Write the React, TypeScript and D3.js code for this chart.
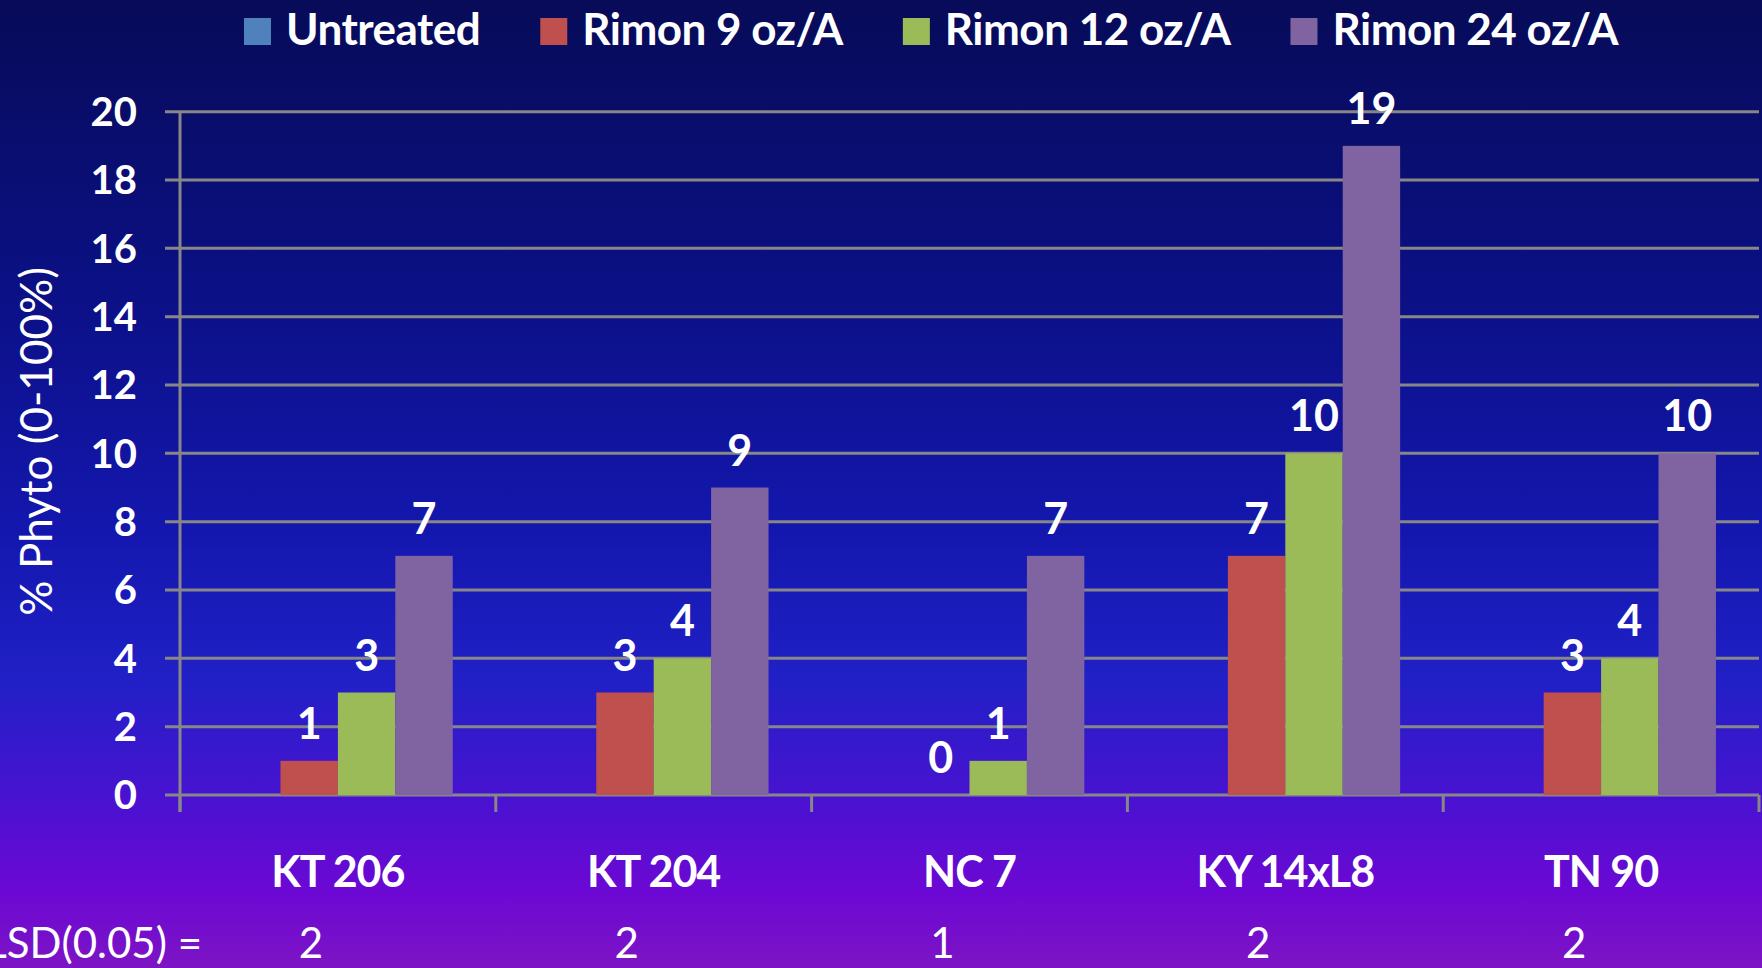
import React, { useEffect, useRef } from "react";
import * as d3 from "d3";

const categories = ["KT 206", "KT 204", "NC 7", "KY 14xL8", "TN 90"];
const seriesNames = ["Untreated", "Rimon 9 oz/A", "Rimon 12 oz/A", "Rimon 24 oz/A"];
const untreated = [0, 0, 0, 0, 0];
const rimon9 = [1, 3, 0, 7, 3];
const rimon12 = [3, 4, 1, 10, 4];
const rimon24 = [7, 9, 7, 19, 10];
const lsd = [2, 2, 1, 2, 2];
const yTicks = [0, 2, 4, 6, 8, 10, 12, 14, 16, 18, 20];
const colors = ["#4F81BD", "#C0504D", "#9BBB59", "#8064A2"];

const App = () => {
  const ref = useRef<SVGSVGElement>(null);

  useEffect(() => {
    document.body.style.margin = "0";
    const width = 1762;
    const height = 968;
    const margin = { top: 111.7, right: 3, bottom: 173, left: 180 };
    const font = "Lato, 'Open Sans', sans-serif";
    const gridColor = "#878787";

    const values = [untreated, rimon9, rimon12, rimon24];
    const rows = categories.map((c, i) => ({
      cat: c,
      vals: seriesNames.map((s, j) => ({ name: s, idx: j, value: values[j][i] })),
    }));

    const svg = d3.select(ref.current);
    svg.selectAll("*").remove();
    svg.attr("width", width).attr("height", height).attr("viewBox", [0, 0, width, height]);

    // background gradient
    const grad = svg
      .append("defs")
      .append("linearGradient")
      .attr("id", "bg")
      .attr("x1", 0)
      .attr("y1", 0)
      .attr("x2", 0)
      .attr("y2", 1);
    [
      [0, "#070b58"],
      [0.3, "#0b1085"],
      [0.55, "#1417ae"],
      [0.7, "#2020c6"],
      [0.82, "#4713d0"],
      [0.92, "#6c08d4"],
      [1, "#7d14c4"],
    ].forEach(([o, c]) => grad.append("stop").attr("offset", o).attr("stop-color", c));
    svg.append("rect").attr("width", width).attr("height", height).attr("fill", "url(#bg)");

    const x = d3
      .scaleBand()
      .domain(categories)
      .range([margin.left, width - margin.right]);
    const xs = d3
      .scaleBand()
      .domain(seriesNames)
      .range([0, x.bandwidth()])
      .paddingInner(0)
      .paddingOuter(0.75);
    const y = d3
      .scaleLinear()
      .domain([0, 20])
      .range([height - margin.bottom, margin.top]);

    // gridlines
    svg
      .append("g")
      .selectAll("line")
      .data(yTicks)
      .join("line")
      .attr("x1", margin.left - 15)
      .attr("x2", width - margin.right)
      .attr("y1", (d) => y(d))
      .attr("y2", (d) => y(d))
      .attr("stroke", gridColor)
      .attr("stroke-width", 3);

    // y tick labels
    svg
      .append("g")
      .selectAll("text")
      .data(yTicks)
      .join("text")
      .attr("x", margin.left - 43)
      .attr("y", (d) => y(d))
      .attr("dy", "0.36em")
      .attr("text-anchor", "end")
      .attr("fill", "#fff")
      .attr("font-family", font)
      .attr("font-weight", 700)
      .attr("font-size", 40)
      .text((d) => d);

    // bars
    const group = svg
      .append("g")
      .selectAll("g")
      .data(rows)
      .join("g")
      .attr("transform", (d) => `translate(${x(d.cat)},0)`);

    group
      .selectAll("rect")
      .data((d) => d.vals)
      .join("rect")
      .attr("x", (d) => xs(d.name))
      .attr("y", (d) => y(d.value))
      .attr("width", xs.bandwidth())
      .attr("height", (d) => y(0) - y(d.value))
      .attr("fill", (d) => colors[d.idx]);

    group
      .selectAll("text")
      .data((d) => d.vals.filter((v) => v.idx > 0))
      .join("text")
      .attr("x", (d) => xs(d.name) + xs.bandwidth() / 2)
      .attr("y", (d) => y(d.value) - 22)
      .attr("text-anchor", "middle")
      .attr("fill", "#fff")
      .attr("font-family", font)
      .attr("font-weight", 700)
      .attr("font-size", 43)
      .text((d) => d.value);

    // axes lines
    svg
      .append("line")
      .attr("x1", margin.left)
      .attr("x2", margin.left)
      .attr("y1", y(20))
      .attr("y2", y(0) + 17)
      .attr("stroke", gridColor)
      .attr("stroke-width", 3);
    const bounds = categories.map((c) => x(c)).concat([width - margin.right]);
    svg
      .append("g")
      .selectAll("line")
      .data(bounds)
      .join("line")
      .attr("x1", (d) => d)
      .attr("x2", (d) => d)
      .attr("y1", y(0))
      .attr("y2", y(0) + 17)
      .attr("stroke", gridColor)
      .attr("stroke-width", 3);

    // category labels
    svg
      .append("g")
      .selectAll("text")
      .data(categories)
      .join("text")
      .attr("x", (d) => x(d) + x.bandwidth() / 2)
      .attr("y", 887)
      .attr("text-anchor", "middle")
      .attr("fill", "#fff")
      .attr("font-family", font)
      .attr("font-weight", 700)
      .attr("font-size", 43)
      .attr("letter-spacing", -1)
      .text((d) => d);

    // LSD row
    svg
      .append("text")
      .attr("x", 202)
      .attr("y", 958)
      .attr("text-anchor", "end")
      .attr("fill", "#fff")
      .attr("font-family", font)
      .attr("font-size", 42)
      .text("LSD(0.05) =");
    svg
      .append("g")
      .selectAll("text")
      .data(lsd)
      .join("text")
      .attr("x", (d, i) => x(categories[i]) + x.bandwidth() / 2 - 27)
      .attr("y", 958)
      .attr("text-anchor", "middle")
      .attr("fill", "#fff")
      .attr("font-family", font)
      .attr("font-size", 42)
      .text((d) => d);

    // y axis title
    svg
      .append("text")
      .attr("transform", `translate(52,${(y(0) + y(20)) / 2 - 12}) rotate(-90)`)
      .attr("text-anchor", "middle")
      .attr("fill", "#fff")
      .attr("font-family", font)
      .attr("font-size", 44)
      .text("% Phyto (0-100%)");

    // legend
    const legend = svg.append("g");
    let lx = 244;
    seriesNames.forEach((s, i) => {
      const item = legend.append("g");
      item
        .append("rect")
        .attr("x", lx)
        .attr("y", 18)
        .attr("width", 27)
        .attr("height", 27)
        .attr("fill", colors[i]);
      const t = item
        .append("text")
        .attr("x", lx + 42)
        .attr("y", 45)
        .attr("fill", "#fff")
        .attr("font-family", font)
        .attr("font-weight", 700)
        .attr("font-size", 44)
        .attr("letter-spacing", -0.5)
        .text(s);
      const w = (t.node() as SVGTextElement).getComputedTextLength();
      lx += 42 + w + 60;
    });
  }, []);

  return <svg ref={ref}></svg>;
};

export default App;
